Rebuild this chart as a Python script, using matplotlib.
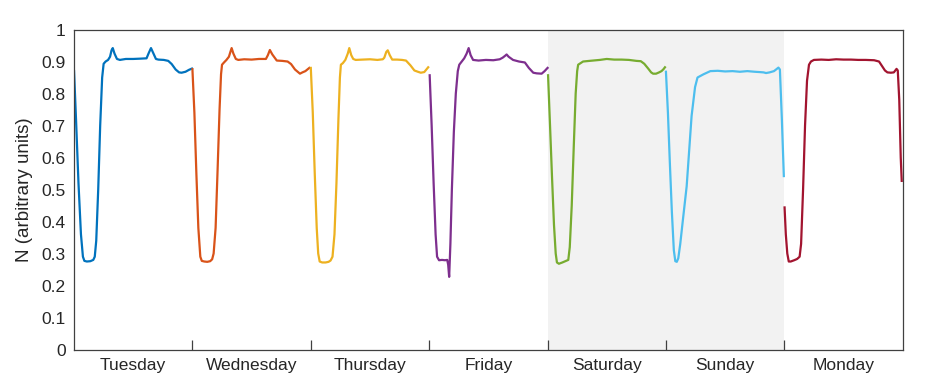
import numpy as np
import matplotlib
matplotlib.use("Agg")
import matplotlib.pyplot as plt

plt.rcParams["font.family"] = ["Liberation Sans", "DejaVu Sans"]

DAYS = ["Tuesday", "Wednesday", "Thursday", "Friday", "Saturday", "Sunday", "Monday"]
COLORS = ["#0072BD", "#D95319", "#EDB120", "#7E2F8E", "#77AC30", "#4DBEEE", "#A2142F"]

# hour of day / value
tue_h = [0, 0.4, 0.9, 1.4, 1.8, 2.1, 2.6, 3.3, 3.9, 4.2, 4.5, 4.9, 5.3, 5.7, 6.0, 6.4, 6.9,
         7.3, 7.6, 7.85, 8.2, 8.7, 9.3, 10.5, 12, 13.5, 14.7, 15.1, 15.6, 16.1, 16.6, 17.1,
         18.2, 19.1, 19.8, 20.6, 21.3, 21.8, 22.6, 23.3, 23.9]
tue_v = [0.87, 0.72, 0.52, 0.36, 0.29, 0.277, 0.275, 0.276, 0.28, 0.29, 0.34, 0.5, 0.7, 0.85,
         0.893, 0.9, 0.905, 0.915, 0.935, 0.942, 0.925, 0.908, 0.905, 0.908, 0.908, 0.909, 0.91,
         0.925, 0.942, 0.925, 0.908, 0.906, 0.905, 0.902, 0.892, 0.875, 0.866, 0.865, 0.868,
         0.874, 0.878]

wed_h = [0, 0.4, 0.8, 1.2, 1.6, 1.9, 2.4, 3.0, 3.6, 4.0, 4.3, 4.7, 5.1, 5.5, 5.8, 6.0, 6.4,
         6.9, 7.4, 7.7, 7.95, 8.3, 8.8, 9.3, 10.5, 12, 13.5, 14.9, 15.3, 15.7, 16.2, 17.1,
         18.2, 19.3, 20.0, 20.8, 21.8, 22.3, 22.9, 23.7]
wed_v = [0.876, 0.74, 0.55, 0.38, 0.29, 0.277, 0.275, 0.274, 0.276, 0.282, 0.3, 0.38, 0.56,
         0.75, 0.86, 0.89, 0.897, 0.905, 0.915, 0.93, 0.942, 0.925, 0.908, 0.905, 0.907,
         0.906, 0.908, 0.908, 0.92, 0.936, 0.922, 0.903, 0.902, 0.9, 0.892, 0.875, 0.862,
         0.866, 0.87, 0.88]

thu_h = [0, 0.4, 0.8, 1.2, 1.5, 1.8, 2.3, 3.0, 3.6, 4.0, 4.4, 4.8, 5.2, 5.6, 5.9, 6.1, 6.5,
         7.0, 7.5, 7.8, 8.2, 8.6, 9.1, 10.5, 12, 13.5, 14.6, 14.9, 15.3, 15.6, 16.0, 16.5,
         17.5, 18.5, 19.3, 20.2, 21.0, 21.7, 22.3, 23.0, 23.8]
thu_v = [0.88, 0.74, 0.55, 0.38, 0.3, 0.275, 0.272, 0.272, 0.274, 0.278, 0.29, 0.36, 0.52,
         0.72, 0.85, 0.89, 0.895, 0.905, 0.925, 0.942, 0.92, 0.908, 0.905, 0.906, 0.907,
         0.905, 0.907, 0.912, 0.93, 0.935, 0.92, 0.906, 0.906, 0.905, 0.903, 0.888, 0.872,
         0.868, 0.865, 0.867, 0.882]

fri_h = [0.1, 0.5, 0.9, 1.3, 1.6, 2.0, 2.6, 3.2, 3.66, 3.85, 4.05, 4.3, 4.6, 5.0, 5.4, 5.8,
         6.1, 6.6, 7.1, 7.6, 8.0, 8.4, 8.9, 10.0, 11.5, 13.0, 14.3, 14.9, 15.4, 15.7, 16.1,
         17.0, 18.2, 19.4, 20.2, 21.1, 21.8, 22.8, 23.4, 24]
fri_v = [0.857, 0.7, 0.52, 0.36, 0.29, 0.279, 0.28, 0.279, 0.28, 0.265, 0.227, 0.33, 0.5,
         0.68, 0.8, 0.87, 0.89, 0.9, 0.91, 0.925, 0.942, 0.92, 0.905, 0.903, 0.905, 0.904,
         0.907, 0.912, 0.918, 0.922, 0.915, 0.905, 0.9, 0.897, 0.88, 0.865, 0.863, 0.862,
         0.87, 0.88]

sat_h = [0.1, 0.5, 0.9, 1.3, 1.65, 1.9, 2.3, 3.0, 3.6, 4.2, 4.5, 4.9, 5.3, 5.7, 6.0, 6.2,
         6.7, 7.2, 8.5, 10.6, 12, 13.5, 15, 16.5, 18.0, 18.9, 19.6, 20.4, 21.0, 21.4, 22.0,
         22.6, 23.1, 23.5, 23.8]
sat_v = [0.857, 0.7, 0.54, 0.39, 0.3, 0.272, 0.268, 0.272, 0.276, 0.28, 0.32, 0.45, 0.63,
         0.8, 0.87, 0.89, 0.895, 0.9, 0.902, 0.905, 0.908, 0.906, 0.906, 0.905, 0.902, 0.901,
         0.893, 0.878, 0.866, 0.862, 0.862, 0.866, 0.87, 0.876, 0.882]

sun_h = [0, 0.4, 0.8, 1.2, 1.6, 1.9, 2.2, 2.5, 2.9, 3.4, 4.2, 5.2, 5.9, 6.4, 7.0, 7.6, 8.3,
         9.0, 10.5, 12, 13.5, 15, 16.5, 18, 19.0, 19.8, 20.3, 21.0, 21.9, 22.4, 22.8, 23.1,
         23.5, 23.9]
sun_v = [0.868, 0.74, 0.58, 0.43, 0.31, 0.276, 0.274, 0.285, 0.33, 0.4, 0.51, 0.73, 0.82,
         0.85, 0.855, 0.86, 0.865, 0.87, 0.871, 0.869, 0.87, 0.868, 0.87, 0.868, 0.867, 0.866,
         0.864, 0.866, 0.87, 0.876, 0.881, 0.875, 0.72, 0.542]

mon_h = [0.05, 0.3, 0.6, 0.9, 1.3, 2.0, 2.6, 3.1, 3.4, 3.8, 4.2, 4.6, 5.0, 5.4, 6.0, 7.5, 9,
         10.5, 12, 13.5, 15, 16.5, 18.2, 19.2, 19.8, 20.4, 20.9, 21.6, 22.2, 22.5, 22.75,
         23.0, 23.3, 23.6, 23.8]
mon_v = [0.444, 0.36, 0.3, 0.275, 0.275, 0.279, 0.283, 0.29, 0.33, 0.5, 0.7, 0.84, 0.89,
         0.9, 0.905, 0.906, 0.905, 0.907, 0.906, 0.906, 0.905, 0.905, 0.904, 0.9, 0.886,
         0.872, 0.866, 0.865, 0.866, 0.872, 0.877, 0.872, 0.78, 0.6, 0.527]

HOURS = [tue_h, wed_h, thu_h, fri_h, sat_h, sun_h, mon_h]
VALUES = [tue_v, wed_v, thu_v, fri_v, sat_v, sun_v, mon_v]

TEXT = "#262626"

fig = plt.figure(figsize=(9.29, 3.92), dpi=100)
ax = fig.add_axes([0.0797, 0.1084, 0.892, 0.8163])

# weekend shading (Saturday + Sunday)
ax.axvspan(4 * 24, 6 * 24, color="#f2f2f2", lw=0, zorder=0)

for i, (h, v) in enumerate(zip(HOURS, VALUES)):
    ax.plot(i * 24 + np.array(h), v, color=COLORS[i], lw=1.6, zorder=2)

ax.set_xlim(0, 168)
ax.set_ylim(0, 1)
ax.set_yticks(np.arange(0, 1.01, 0.1))
ax.set_yticklabels(["0", "0.1", "0.2", "0.3", "0.4", "0.5", "0.6", "0.7", "0.8", "0.9", "1"])
ax.set_xticks([24 * k for k in range(1, 7)])
ax.set_xticklabels([])
ax.set_xticks([12 + 24 * k for k in range(7)], minor=True)
ax.set_xticklabels(DAYS, minor=True)
ax.tick_params(axis="x", which="major", direction="in", length=7, width=0.9, color="#404040")
ax.tick_params(axis="x", which="minor", length=0, pad=6, labelsize=12.5, labelcolor=TEXT)
ax.tick_params(axis="y", length=0, pad=6, labelsize=12.5, labelcolor=TEXT)
for s in ax.spines.values():
    s.set_color("#404040")
    s.set_linewidth(0.9)
ax.set_ylabel("N (arbitrary units)", fontsize=13.5, color=TEXT, labelpad=6)

fig.savefig("out.png", dpi=100)
